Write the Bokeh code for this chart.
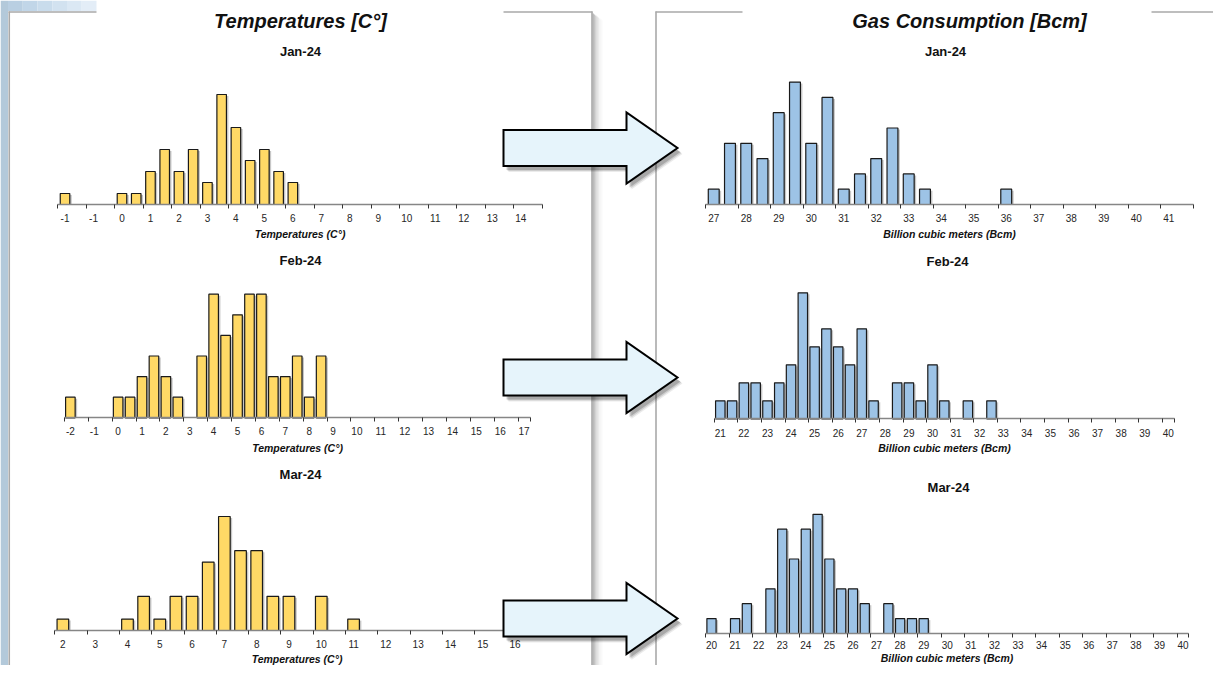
from bokeh.plotting import figure
from bokeh.models import Range1d, LinearAxis, FixedTicker, ColumnDataSource
from bokeh.core.properties import value
from bokeh.embed import file_html
from bokeh.resources import INLINE

# ---------------- data ----------------
temp_jan_labels = ["-1", "-1", "0", "1", "2", "3", "4", "5", "6", "7", "8", "9", "10", "11", "12", "13", "14"]
temp_jan_counts = [1, 0, 0, 0, 1, 1, 3, 5, 3, 5, 2, 10, 7, 4, 5, 3, 2,
                   0, 0, 0, 0, 0, 0, 0, 0, 0, 0, 0, 0, 0, 0, 0, 0, 0]

temp_feb_labels = ["-2", "-1", "0", "1", "2", "3", "4", "5", "6", "7", "8", "9", "10",
                   "11", "12", "13", "14", "15", "16", "17"]
temp_feb_counts = [1, 0, 0, 0, 1, 1, 2, 3, 2, 1, 0, 3, 6, 4, 5, 6, 6, 2, 2, 3, 1, 3,
                   0, 0, 0, 0, 0, 0, 0, 0, 0, 0, 0, 0, 0, 0, 0, 0, 0]

temp_mar_labels = ["2", "3", "4", "5", "6", "7", "8", "9", "10", "11", "12", "13", "14", "15", "16"]
temp_mar_counts = [1, 0, 0, 0, 1, 3, 1, 3, 3, 6, 10, 7, 7, 3, 3, 0, 3, 0, 1,
                   0, 0, 0, 0, 0, 0, 0, 0, 0, 0, 0]

gas_jan_labels = ["27", "28", "29", "30", "31", "32", "33", "34", "35", "36", "37", "38", "39", "40", "41"]
gas_jan_counts = [1, 4, 4, 3, 6, 8, 4, 7, 1, 2, 3, 5, 2, 1, 0, 0, 0, 0, 1,
                  0, 0, 0, 0, 0, 0, 0, 0, 0, 0, 0]

gas_feb_labels = ["21", "22", "23", "24", "25", "26", "27", "28", "29", "30", "31", "32", "33",
                  "34", "35", "36", "37", "38", "39", "40"]
gas_feb_counts = [1, 1, 2, 2, 1, 2, 3, 7, 4, 5, 4, 3, 5, 1, 0, 2, 2, 1, 3, 1, 0, 1, 0, 1,
                  0, 0, 0, 0, 0, 0, 0, 0, 0, 0, 0, 0, 0, 0, 0]

gas_mar_labels = ["20", "21", "22", "23", "24", "25", "26", "27", "28", "29", "30", "31", "32",
                  "33", "34", "35", "36", "37", "38", "39", "40"]
gas_mar_counts = [1, 0, 1, 2, 0, 3, 7, 5, 7, 8, 5, 3, 3, 2, 0, 2, 1, 1, 1,
                  0, 0, 0, 0, 0, 0, 0, 0, 0, 0, 0, 0, 0, 0, 0, 0, 0, 0, 0, 0, 0, 0]

months = ["Jan-24", "Feb-24", "Mar-24"]
panel_titles = ["Temperatures [C°]", "Gas Consumption [Bcm]"]
temp_axis_title = "Temperatures (C°)"
gas_axis_title = "Billion cubic meters (Bcm)"

# ---------------- styling / layout ----------------
FONT = "Liberation Sans"
TEMP_FILL = "#FFD966"
GAS_FILL = "#9DC3E6"
X0, X1, Y0, Y1 = 0, 1213, 0, 665   # pixel area covered by the figure

p = figure(width=X1 - X0, height=Y1 - Y0,
           x_range=Range1d(X0, X1), y_range=Range1d(Y1, Y0),
           x_axis_type=None, y_axis_type=None,
           output_backend="svg", toolbar_location=None, min_border=0,
           outline_line_color=None, background_fill_color="white",
           border_fill_color="white")

# background decoration -------------------------------------------------
strip = p.quad(left=[0], right=[7.5], top=[0], bottom=[Y1], fill_color="#b3c9da", line_color=None)
strip.level = "underlay"
for i, c in enumerate(["#b9cfe2", "#c1d6e8", "#c9dcec", "#d2e2f0", "#dbe8f4", "#e3edf7"]):
    r = p.quad(left=[7.5 + i * 14.75], right=[7.5 + (i + 1) * 14.75], top=[0], bottom=[10.5],
               fill_color=c, line_color=None)
    r.level = "underlay"
# shadow to the right of the left panel
for i, a in enumerate([0.45, 0.35, 0.26, 0.18, 0.12, 0.07, 0.04, 0.02]):
    r = p.quad(left=[592 + i * 1.3], right=[593.3 + i * 1.3], top=[13 + i], bottom=[Y1],
               fill_color="#555555", fill_alpha=a, line_color=None)
    r.level = "underlay"
border_xs = [[8, 96], [503, 592], [8.75, 8.75], [591.5, 591.5],
             [655, 742], [1151, 1213], [655.5, 655.5]]
border_ys = [[11.5, 11.5], [11.5, 11.5], [11, Y1], [11, Y1],
             [11.5, 11.5], [11.5, 11.5], [11, Y1]]
br = p.multi_line(xs=border_xs, ys=border_ys, line_color="#a9a9a9", line_width=1.6)
br.level = "underlay"

# titles
p.text(x=[300, 969], y=[20, 20], text=panel_titles, text_font=value(FONT),
       text_font_size=value("20px"), text_font_style="bold italic",
       text_color="#111111", text_align="center", text_baseline="middle")
p.text(x=[300, 300, 300, 945, 947, 948], y=[51, 260, 474, 51, 261, 487],
       text=months + months, text_font=value(FONT), text_font_size=value("13px"),
       text_font_style="bold", text_color="#111111", text_align="center",
       text_baseline="middle")

# histograms ----------------------------------------------------------------
extra_x, extra_y = {}, {}


def add_hist(key, counts, labels, xa, s, base, unit, bw, fill, axis_title, std, als):
    n = len(counts)
    extra_x[key] = Range1d((X0 - xa) / s, (X1 - xa) / s)
    extra_y[key] = Range1d((base - Y1) / unit, (base - Y0) / unit)
    idx = [i for i, c in enumerate(counts) if c > 0]
    xs = [i + 0.5 for i in idx]
    tops = [counts[i] for i in idx]
    shadow = ColumnDataSource(dict(x=[x + 2.0 / s for x in xs], top=[t - 1.5 / unit for t in tops]))
    p.vbar(x="x", top="top", bottom=0, width=bw, source=shadow, fill_color="#000000",
           fill_alpha=0.22, line_color=None, x_range_name=key, y_range_name=key)
    src = ColumnDataSource(dict(x=xs, top=tops))
    p.vbar(x="x", top="top", bottom=0, width=bw, source=src, fill_color=fill,
           line_color="#1a1a1a", line_width=1.2, x_range_name=key, y_range_name=key)
    label_pos = [k + 0.5 for k in range(0, 2 * len(labels), 2)]
    ax = LinearAxis(x_range_name=key, y_range_name=key, fixed_location=0, bounds=(0, n),
                    ticker=FixedTicker(ticks=label_pos, minor_ticks=list(range(0, n, 2)) + [n]),
                    major_label_overrides={pos: lab for pos, lab in zip(label_pos, labels)},
                    axis_label=axis_title)
    ax.axis_line_color = "#868686"
    ax.axis_line_width = 1.5
    ax.major_tick_out = 0
    ax.major_tick_in = 0
    ax.minor_tick_out = 4
    ax.minor_tick_in = 0
    ax.minor_tick_line_color = "#333333"
    ax.minor_tick_line_width = 1
    ax.major_label_text_font = FONT
    ax.major_label_text_font_size = "10px"
    ax.major_label_text_color = "#262626"
    ax.major_label_standoff = std
    ax.axis_label_text_font = FONT
    ax.axis_label_text_font_size = "10.5px"
    ax.axis_label_text_font_style = "bold italic"
    ax.axis_label_text_color = "#111111"
    ax.axis_label_standoff = als
    p.add_layout(ax, "below")


add_hist("tjan", temp_jan_counts, temp_jan_labels, 57.4, 14.24, 204, 11.0, 0.67, TEMP_FILL, temp_axis_title, 5, 3)
add_hist("tfeb", temp_feb_counts, temp_feb_labels, 63.9, 11.94, 417.3, 20.6, 0.80, TEMP_FILL, temp_axis_title, 5, 4)
add_hist("tmar", temp_mar_counts, temp_mar_labels, 54.3, 16.15, 630, 11.4, 0.72, TEMP_FILL, temp_axis_title, 5, 2)
add_hist("gjan", gas_jan_counts, gas_jan_labels, 705.1, 16.25, 204, 15.3, 0.67, GAS_FILL, gas_axis_title, 5, 3)
add_hist("gfeb", gas_feb_counts, gas_feb_labels, 713.9, 11.79, 418.3, 18.0, 0.80, GAS_FILL, gas_axis_title, 6, 2)
add_hist("gmar", gas_mar_counts, gas_mar_labels, 705.1, 11.79, 633, 14.9, 0.78, GAS_FILL, gas_axis_title, 3, 0)

p.extra_x_ranges = extra_x
p.extra_y_ranges = extra_y

# arrows ---------------------------------------------------------------------
for cy in [147.5, 377, 618]:
    axs = [503, 626, 626, 677, 626, 626, 503]
    ays = [cy - 18, cy - 18, cy - 35.5, cy, cy + 35.5, cy + 18, cy + 18]
    for dx, dy, a in [(5, 6, 0.08), (4, 5, 0.12), (3, 4, 0.18)]:
        sh = p.patch(x=[x + dx for x in axs], y=[y + dy for y in ays], fill_color="#000000",
                     fill_alpha=a, line_color=None)
        sh.level = "overlay"
    ar = p.patch(x=axs, y=ays, fill_color="#e6f4fb", line_color="#000000", line_width=2,
                 line_join="miter")
    ar.level = "overlay"

open("out.html", "w").write(file_html(p, INLINE))
